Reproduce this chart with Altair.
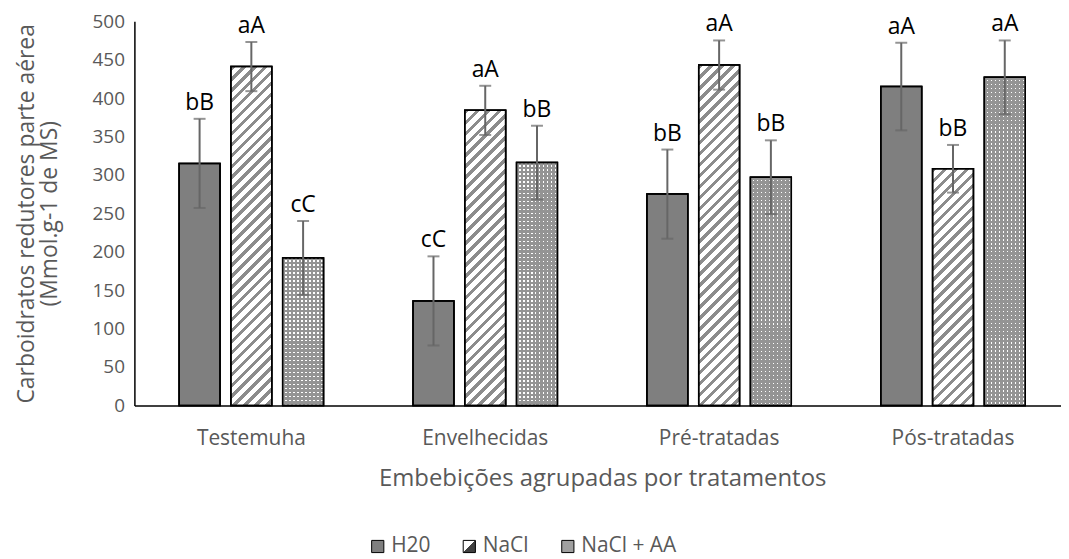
import altair as alt

# ---------------- data ----------------
categories = ["Testemuha", "Envelhecidas", "Pré-tratadas", "Pós-tratadas"]
series = ["H20", "NaCl", "NaCl + AA"]

h2o = [315, 136, 275, 415]
nacl = [441, 384, 443, 308]
nacl_aa = [192, 316, 297, 427]

h2o_err = [58, 58, 58, 57]
nacl_err = [32, 32, 32, 31]
nacl_aa_err = [48, 48, 48, 48]

h2o_lab = ["bB", "cC", "bB", "aA"]
nacl_lab = ["aA", "aA", "aA", "bB"]
nacl_aa_lab = ["cC", "bB", "bB", "aA"]

y_ticks = [0, 50, 100, 150, 200, 250, 300, 350, 400, 450, 500]

# ---------------- layout constants ----------------
Y_MAX = 500
PLOT_H = 386
PLOT_W = 931
GROUP_STEP = 235
BAR_STEP = 52
BAR_W = 41
OFF_PI = (BAR_STEP - BAR_W) / BAR_STEP
OFF_PO = (GROUP_STEP / BAR_STEP - 3 + OFF_PI) / 2

GRAY_DARK = "#7f7f7f"
GRAY_HATCH = "#8c8c8c"
GRAY_CROSS = "#949494"
WHITE = "#ffffff"
CLEAR = "rgba(255,255,255,0)"


def diag_hatch(w, h, period=11.0, frac=0.42):
    """'/' stripes (45 deg in pixel space) inside a w x h box."""
    L = w + h
    k = L / (w * w + h * h)
    stops = []
    i = 0
    while i * period / L < 1:
        s = i * period / L
        e = min((i * period + frac * period) / L, 1)
        n = min((i + 1) * period / L, 1)
        stops += [
            {"offset": s, "color": GRAY_HATCH},
            {"offset": e, "color": GRAY_HATCH},
            {"offset": e, "color": WHITE},
            {"offset": n, "color": WHITE},
        ]
        i += 1
    return {"gradient": "linear", "x1": 0, "y1": 0, "x2": k * w, "y2": k * h, "stops": stops}


def stripes(length, horizontal, c_on, c_off, period=4.0, frac=0.6):
    stops = []
    i = 0
    while i * period / length < 1:
        s = i * period / length
        e = min((i * period + frac * period) / length, 1)
        n = min((i + 1) * period / length, 1)
        stops += [
            {"offset": s, "color": c_on},
            {"offset": e, "color": c_on},
            {"offset": e, "color": c_off},
            {"offset": n, "color": c_off},
        ]
        i += 1
    if horizontal:
        return {"gradient": "linear", "x1": 0, "y1": 0, "x2": 0, "y2": 1, "stops": stops}
    return {"gradient": "linear", "x1": 0, "y1": 0, "x2": 1, "y2": 0, "stops": stops}


values = [h2o, nacl, nacl_aa]
errs = [h2o_err, nacl_err, nacl_aa_err]
labs = [h2o_lab, nacl_lab, nacl_aa_lab]

records = []
for si, s in enumerate(series):
    for ci, c in enumerate(categories):
        v = values[si][ci]
        e = errs[si][ci]
        hpx = v / Y_MAX * PLOT_H
        rec = {"cat": c, "ser": s, "val": v, "lo": v - e, "hi": v + e, "lab": labs[si][ci]}
        if si == 0:
            rec["g1"] = GRAY_DARK
            rec["g2"] = CLEAR
        elif si == 1:
            rec["g1"] = diag_hatch(BAR_W, hpx)
            rec["g2"] = CLEAR
        else:
            rec["g1"] = stripes(hpx, True, GRAY_CROSS, WHITE)
            rec["g2"] = stripes(BAR_W, False, GRAY_CROSS, CLEAR)
        records.append(rec)

data = alt.Data(values=records)

FONT = "Open Sans"
TXT = "#595959"

x_enc = alt.X(
    "cat:N",
    sort=categories,
    scale=alt.Scale(range=[0, GROUP_STEP * 4], paddingInner=0, paddingOuter=0),
    axis=alt.Axis(
        title="Embebições agrupadas por tratamentos",
        labelAngle=0,
        labelFontSize=21,
        labelColor=TXT,
        labelPadding=22,
        titleFontSize=24,
        titleColor=TXT,
        titleFontWeight="normal",
        titlePadding=18,
        ticks=False,
        domainColor="#000000",
        domainWidth=1.5,
        grid=False,
    ),
)
xoff_enc = alt.XOffset(
    "ser:N", sort=series, scale=alt.Scale(paddingInner=OFF_PI, paddingOuter=OFF_PO)
)
y_scale = alt.Scale(domain=[0, Y_MAX], nice=False)
y_axis = alt.Axis(
    values=y_ticks,
    title=["Carboidratos redutores parte aérea", "(Mmol.g-1 de MS)"],
    labelFontSize=19,
    labelColor=TXT,
    labelPadding=10,
    labelOverlap=False,
    titleFontSize=23,
    titleColor=TXT,
    titleFontWeight="normal",
    titlePadding=31,
    titleLineHeight=23,
    ticks=False,
    grid=False,
    domainColor="#000000",
    domainWidth=1.5,
)


def y_enc(field):
    return alt.Y(field, scale=y_scale, axis=y_axis)


legend_range = [
    GRAY_DARK,
    alt.ExprRef(
        expr="{gradient: 'linear', x1: 0, y1: 0, x2: 1, y2: 1, stops: ["
        "{offset: 0, color: '#ffffff'}, {offset: 0.5, color: '#ffffff'},"
        "{offset: 0.5, color: '#404040'}, {offset: 1, color: '#404040'}]}"
    ),
    "#a0a0a0",
]

base = alt.Chart(data)

bars_base = base.mark_bar(stroke="black", strokeWidth=1.5).encode(
    x=x_enc,
    xOffset=xoff_enc,
    y=y_enc("val:Q"),
    fill=alt.Fill(
        "ser:N",
        sort=series,
        scale=alt.Scale(domain=series, range=legend_range),
        legend=alt.Legend(
            title=None,
            orient="none",
            direction="horizontal",
            legendX=234,
            legendY=517,
            labelFontSize=21,
            labelColor=TXT,
            labelFont=FONT,
            symbolType="square",
            symbolSize=150,
            symbolStrokeColor="black",
            symbolStrokeWidth=1,
            columnPadding=28,
            labelOffset=3,
        ),
    ),
)

bars_pat = base.mark_bar(stroke="black", strokeWidth=1.5).encode(
    x=x_enc, xOffset=xoff_enc, y=y_enc("val:Q"),
    fill=alt.Fill("g1:N", scale=None),
)

bars_over = base.mark_bar(stroke="black", strokeWidth=1.5).encode(
    x=x_enc, xOffset=xoff_enc, y=y_enc("val:Q"),
    fill=alt.Fill("g2:N", scale=None),
)

err_rule = base.mark_rule(color="#666666", strokeWidth=2).encode(
    x=x_enc, xOffset=xoff_enc, y=y_enc("lo:Q"), y2="hi:Q"
)
cap_lo = base.mark_tick(color="#666666", thickness=2, size=12).encode(
    x=x_enc, xOffset=xoff_enc, y=y_enc("lo:Q")
)
cap_hi = base.mark_tick(color="#666666", thickness=2, size=12).encode(
    x=x_enc, xOffset=xoff_enc, y=y_enc("hi:Q")
)
labels = base.mark_text(
    baseline="alphabetic", dy=-9, fontSize=23, font=FONT, color="black"
).encode(
    x=x_enc, xOffset=xoff_enc, y=y_enc("hi:Q"), text="lab:N"
)

chart = (
    alt.layer(bars_base, bars_pat, bars_over, err_rule, cap_lo, cap_hi, labels)
    .properties(
        width=PLOT_W,
        height=PLOT_H,
        autosize=alt.AutoSizeParams(type="none"),
        padding={"left": 127, "top": 12, "right": 0, "bottom": 151},
    )
    .configure(font=FONT)
    .configure_view(stroke=None)
    .configure_axis(labelFont=FONT, titleFont=FONT)
    .configure_axisY(labelOverlap=False)
)

chart.save("out.html", embed_options={"renderer": "svg", "actions": False})
